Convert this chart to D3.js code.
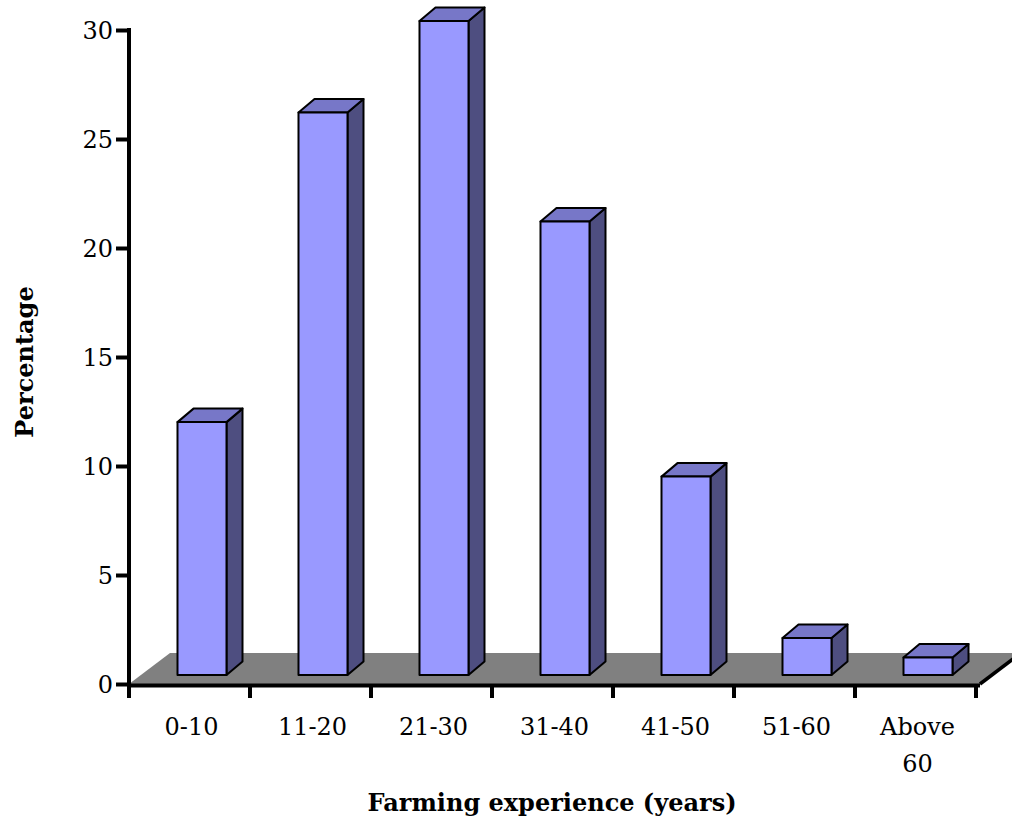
<!DOCTYPE html>
<html>
<head>
<meta charset="utf-8">
<script src="https://cdn.jsdelivr.net/npm/d3@7"></script>
<style>
  html, body { margin: 0; padding: 0; background: #fff; }
  svg { display: block; }
  text { font-family: "DejaVu Serif", "Liberation Serif", serif; fill: #000; }
</style>
</head>
<body>
<svg id="chart" width="1012" height="820"></svg>
<script>
// Farming experience distribution (percentage of respondents)
const categories = ["0-10", "11-20", "21-30", "31-40", "41-50", "51-60", "Above 60"];
const percentages = [11.6, 25.8, 30.0, 20.8, 9.1, 1.7, 0.8];
const yTicks = [0, 5, 10, 15, 20, 25, 30];

const svg = d3.select("#chart");
const FONT = "DejaVu Serif, Liberation Serif, serif";

// plot frame (front plane)
const plotLeft = 129, plotRight = 976, plotBottom = 684, plotTop = 30;

const x = d3.scaleBand().domain(categories).range([plotLeft, plotRight]).paddingInner(0).paddingOuter(0);
const y = d3.scaleLinear().domain([0, 30]).range([plotBottom, plotTop]);

// oblique depth projection: full floor depth offset
const floorDX = 41, floorDY = -31;
// bar front face sits part-way back on the floor, bar depth offset
const frontDX = 12.5, frontDY = -9;
const depthDX = 16, depthDY = -13.5;
const barWidthFrac = 0.405;

// floor
svg.append("polygon")
  .attr("points", [
    [plotLeft, plotBottom], [plotRight + 4, plotBottom],
    [plotRight + 4 + floorDX, plotBottom + floorDY], [plotLeft + floorDX, plotBottom + floorDY]
  ].map(p => p.join(",")).join(" "))
  .attr("fill", "#808080");

// floor right edge outline
svg.append("line")
  .attr("x1", plotRight + 4).attr("y1", plotBottom)
  .attr("x2", plotRight + 4 + floorDX).attr("y2", plotBottom + floorDY)
  .attr("stroke", "#000").attr("stroke-width", 3.5);

// bars
const bw = x.bandwidth() * barWidthFrac;
const bars = svg.append("g").selectAll("g").data(categories).join("g");

bars.each(function (c, i) {
  const g = d3.select(this);
  const cx = x(c) + x.bandwidth() / 2 + frontDX;
  const x0 = cx - bw / 2, x1 = cx + bw / 2;
  const yTop = y(percentages[i]) + frontDY;
  const yBot = y(0) + frontDY;
  const pts = arr => arr.map(p => p.join(",")).join(" ");

  // right side face
  g.append("polygon")
    .attr("points", pts([[x1, yBot], [x1 + depthDX, yBot + depthDY], [x1 + depthDX, yTop + depthDY], [x1, yTop]]))
    .attr("fill", "#4E4E80").attr("stroke", "#000").attr("stroke-width", 2)
    .attr("stroke-linejoin", "round");

  // top face
  g.append("polygon")
    .attr("points", pts([[x0, yTop], [x0 + depthDX, yTop + depthDY], [x1 + depthDX, yTop + depthDY], [x1, yTop]]))
    .attr("fill", "#7777C8").attr("stroke", "#000").attr("stroke-width", 2)
    .attr("stroke-linejoin", "round");

  // front face
  g.append("rect")
    .attr("x", x0).attr("y", yTop)
    .attr("width", bw).attr("height", yBot - yTop)
    .attr("fill", "#9999FF").attr("stroke", "#000").attr("stroke-width", 2)
    .attr("stroke-linejoin", "round");
});

// y axis
const yAxis = d3.axisLeft(y).tickValues(yTicks).tickSize(13).tickPadding(3).tickFormat(d3.format("d"));
const gy = svg.append("g").attr("transform", `translate(${plotLeft},0)`).call(yAxis);
gy.select(".domain").attr("d", `M0,${plotTop - 2}V${plotBottom + 4}`).attr("stroke", "#000").attr("stroke-width", 4);
gy.selectAll(".tick line").attr("stroke", "#000").attr("stroke-width", 4);
gy.selectAll(".tick text").attr("font-size", 24).attr("font-family", FONT).attr("dy", "0.36em");

// x axis (category boundaries as ticks)
const boundaries = d3.range(categories.length + 1).map(i => plotLeft + i * x.bandwidth());
const gx = svg.append("g");
gx.append("line")
  .attr("x1", plotLeft - 2).attr("x2", plotRight + 4)
  .attr("y1", plotBottom + 1.5).attr("y2", plotBottom + 1.5)
  .attr("stroke", "#000").attr("stroke-width", 4);
gx.selectAll("line.tick").data(boundaries).join("line")
  .attr("class", "tick")
  .attr("x1", d => d).attr("x2", d => d)
  .attr("y1", plotBottom).attr("y2", plotBottom + 14)
  .attr("stroke", "#000").attr("stroke-width", 4);

// category labels (wrap "Above 60" onto two lines)
gx.selectAll("text.cat").data(categories).join("text")
  .attr("class", "cat")
  .attr("text-anchor", "middle")
  .attr("font-size", 24)
  .attr("font-family", FONT)
  .attr("x", d => x(d) + x.bandwidth() / 2 + 2)
  .attr("y", 735)
  .each(function (d) {
    const words = d.split(" ");
    const t = d3.select(this);
    if (words.length > 1) {
      words.forEach((w, k) => t.append("tspan")
        .attr("x", x(d) + x.bandwidth() / 2 + 2)
        .attr("dy", k === 0 ? 0 : 37).text(w));
    } else {
      t.text(d);
    }
  });

// axis titles
svg.append("text")
  .attr("x", 552).attr("y", 811)
  .attr("text-anchor", "middle")
  .attr("font-family", FONT)
  .attr("font-size", 24).attr("font-weight", "bold")
  .text("Farming experience (years)");

svg.append("text")
  .attr("transform", "translate(33,362) rotate(-90)")
  .attr("text-anchor", "middle")
  .attr("font-family", FONT)
  .attr("font-size", 24).attr("font-weight", "bold")
  .text("Percentage");
</script>
</body>
</html>
